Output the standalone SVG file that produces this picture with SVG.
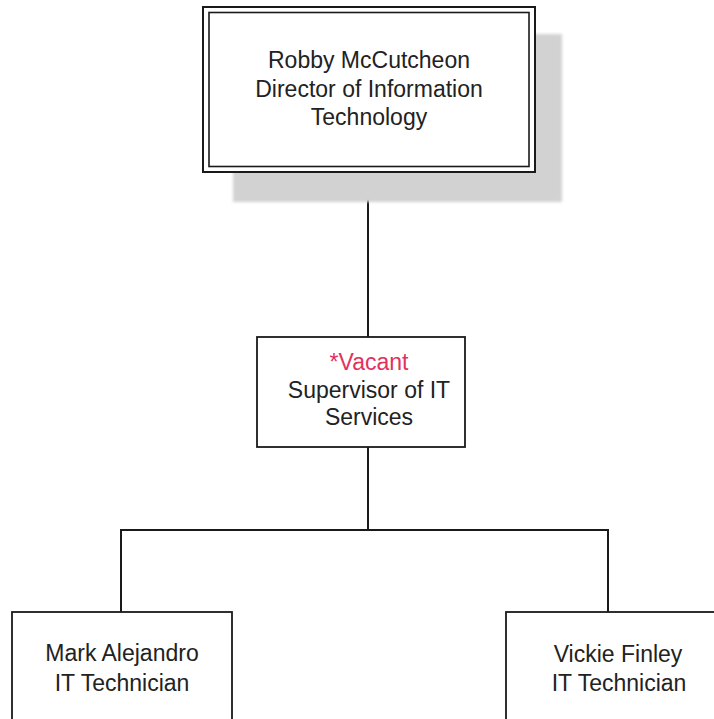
<svg xmlns="http://www.w3.org/2000/svg" width="714" height="719" viewBox="0 0 714 719">
  <style>
    .box { fill: #ffffff; stroke: #1a1a1a; stroke-width: 1.8; }
    .label { font-family: "Liberation Sans", Arial, sans-serif; font-size: 23px; fill: #222222; text-anchor: middle; }
    .vacant { fill: #e2325c; }
    .wire { fill: none; stroke: #1a1a1a; stroke-width: 2; }
  </style>
  <defs>
    <filter id="soft" x="-10%" y="-10%" width="120%" height="120%">
      <feGaussianBlur stdDeviation="1.5"/>
    </filter>
  </defs>
  <rect width="714" height="719" fill="#ffffff"/>

  <!-- reporting lines -->
  <g id="connectors">
    <path class="wire" d="M368 172 V337"/>
    <path class="wire" d="M368 447 V530"/>
    <path class="wire" d="M121 612 V530 H608 V612"/>
  </g>

  <!-- director, double-ruled with drop shadow -->
  <g id="director">
    <rect x="233" y="34" width="329" height="168" fill="#d2d2d2" filter="url(#soft)"/>
    <rect x="203" y="7" width="332" height="165" fill="#ffffff" stroke="#1a1a1a" stroke-width="2"/>
    <rect x="209" y="12.5" width="320" height="154" fill="none" stroke="#1a1a1a" stroke-width="1.6"/>
    <text class="label" x="369" y="68">Robby McCutcheon</text>
    <text class="label" x="369" y="97">Director of Information</text>
    <text class="label" x="369" y="125">Technology</text>
  </g>

  <g id="supervisor">
    <rect class="box" x="257" y="337" width="208" height="110"/>
    <text class="label vacant" x="369" y="370">*Vacant</text>
    <text class="label" x="369" y="398">Supervisor of IT</text>
    <text class="label" x="369" y="425">Services</text>
  </g>

  <g id="tech-alejandro">
    <rect class="box" x="12" y="612" width="220" height="130"/>
    <text class="label" x="122" y="661">Mark Alejandro</text>
    <text class="label" x="122" y="691">IT Technician</text>
  </g>

  <g id="tech-finley">
    <rect class="box" x="506" y="612" width="230" height="130"/>
    <text class="label" x="618" y="662">Vickie Finley</text>
    <text class="label" x="619" y="691">IT Technician</text>
  </g>
</svg>
